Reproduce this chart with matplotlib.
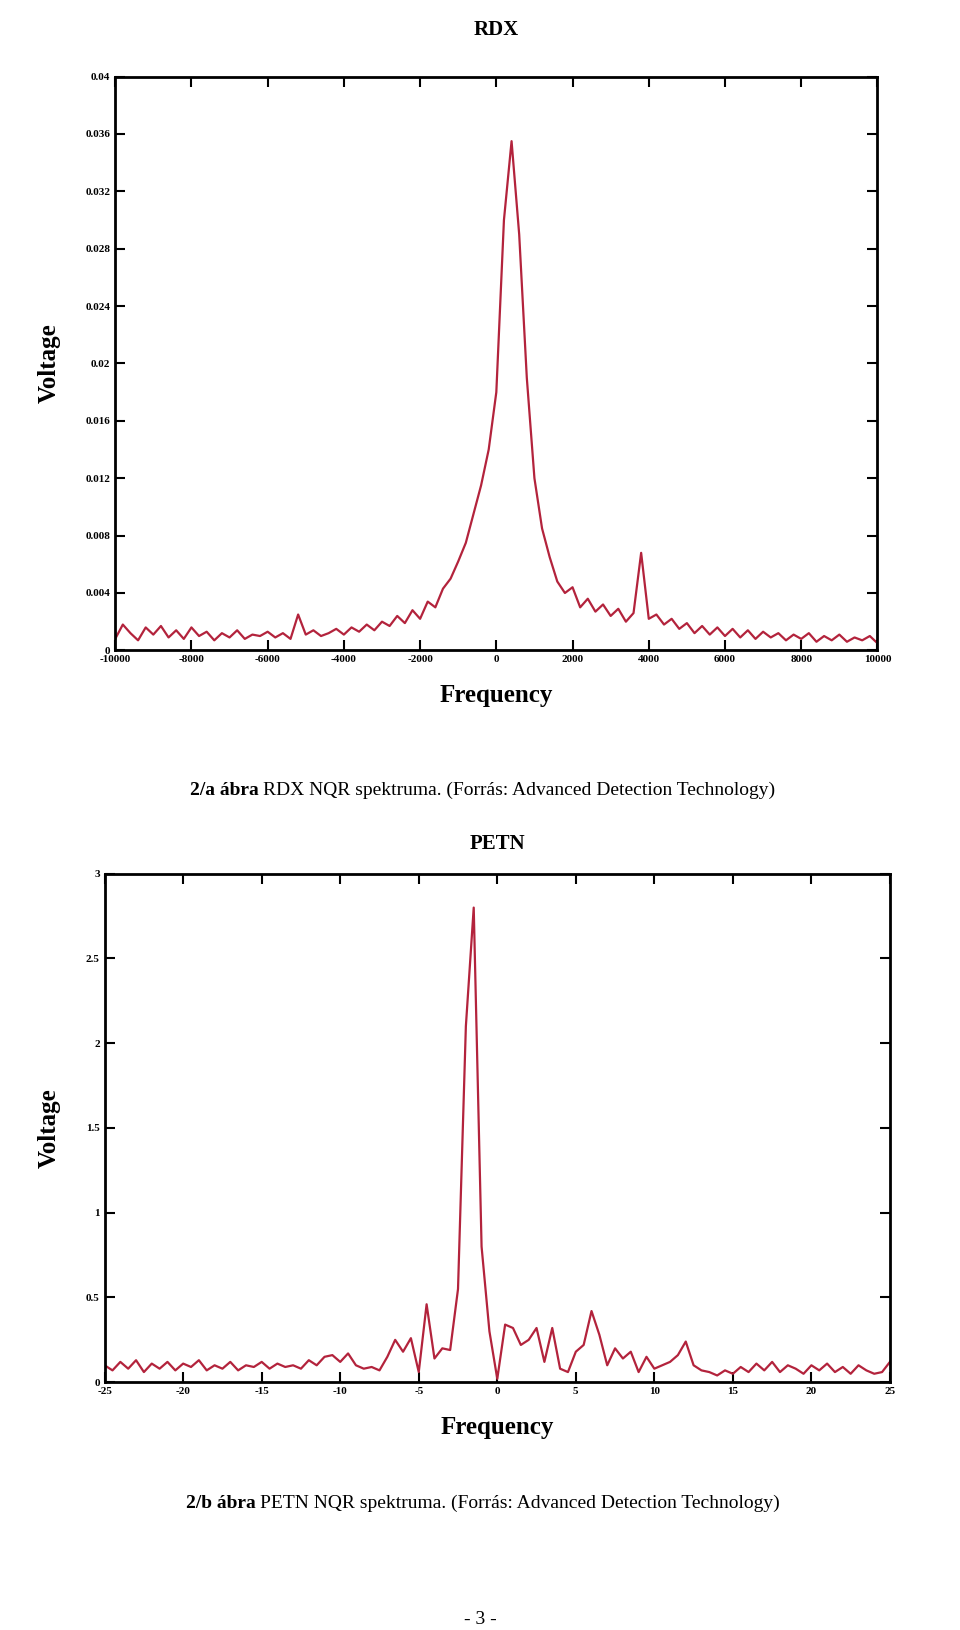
import numpy as np
import matplotlib
matplotlib.use("Agg")
import matplotlib.pyplot as plt

rdx_freq = np.arange(-10000, 10001, 200)
rdx_voltage = [
0.0008,0.0018,0.0012,0.0007,0.0016,0.0011,0.0017,0.0009,0.0014,0.0008,
0.0016,0.0010,0.0013,0.0007,0.0012,0.0009,0.0014,0.0008,0.0011,0.0010,
0.0013,0.0009,0.0012,0.0008,0.0025,0.0011,0.0014,0.0010,0.0012,0.0015,
0.0011,0.0016,0.0013,0.0018,0.0014,0.0020,0.0017,0.0024,0.0019,0.0028,
0.0022,0.0034,0.0030,0.0043,0.0050,0.0062,0.0075,0.0095,0.0115,0.0140,
0.0180,0.0300,0.0355,0.0290,0.0190,0.0120,0.0085,0.0065,0.0048,0.0040,
0.0044,0.0030,0.0036,0.0027,0.0032,0.0024,0.0029,0.0020,0.0026,0.0068,
0.0022,0.0025,0.0018,0.0022,0.0015,0.0019,0.0012,0.0017,0.0011,0.0016,
0.0010,0.0015,0.0009,0.0014,0.0008,0.0013,0.0009,0.0012,0.0007,0.0011,
0.0008,0.0012,0.0006,0.0010,0.0007,0.0011,0.0006,0.0009,0.0007,0.0010,
0.0005]

petn_freq = np.arange(-25, 25.01, 0.5)
petn_voltage = [
# -25 .. -7.5
0.10,0.07,0.12,0.08,0.13,0.06,0.11,0.08,0.12,0.07,
0.11,0.09,0.13,0.07,0.10,0.08,0.12,0.07,0.10,0.09,
0.12,0.08,0.11,0.09,0.10,0.08,0.13,0.10,0.15,0.16,
0.12,0.17,0.10,0.08,0.09,0.07,
# -7 .. 13
0.15,0.25,0.18,0.26,0.06,0.46,0.14,0.20,0.19,0.55,
2.10,2.80,0.80,0.30,0.02,0.34,0.32,0.22,0.25,0.32,
0.12,0.32,0.08,0.06,0.18,0.22,0.42,0.28,0.10,0.20,
0.14,0.18,0.06,0.15,0.08,0.10,0.12,0.16,0.24,0.10,
0.07,
# 13.5 .. 25
0.06,0.04,0.07,0.05,0.09,0.06,0.11,0.07,0.12,0.06,
0.10,0.08,0.05,0.10,0.07,0.11,0.06,0.09,0.05,0.10,
0.07,0.05,0.06,0.12]

rdx_yticks = [0, 0.004, 0.008, 0.012, 0.016, 0.02, 0.024, 0.028, 0.032, 0.036, 0.04]
rdx_xticks = [-10000, -8000, -6000, -4000, -2000, 0, 2000, 4000, 6000, 8000, 10000]
petn_yticks = [0, 0.5, 1, 1.5, 2, 2.5, 3]
petn_xticks = [-25, -20, -15, -10, -5, 0, 5, 10, 15, 20, 25]

serif = "Liberation Serif"
red = "#b3233c"
fig = plt.figure(figsize=(9.6, 16.3), dpi=100)

def style(ax, xt, yt, xl, yl):
    ax.set_xlim(xl); ax.set_ylim(yl)
    ax.set_xticks(xt); ax.set_yticks(yt)
    ax.set_xticklabels([str(v) for v in xt], fontfamily=serif, fontweight="bold", fontsize=8)
    ax.set_yticklabels([("%g" % v) for v in yt], fontfamily=serif, fontweight="bold", fontsize=8)
    ax.tick_params(direction="in", top=True, right=True, length=7, width=1.5)
    for s in ax.spines.values():
        s.set_linewidth(2)
    ax.set_xlabel("Frequency", fontfamily=serif, fontweight="bold", fontsize=18, labelpad=14)
    ax.set_ylabel("Voltage", fontfamily=serif, fontweight="bold", fontsize=18, labelpad=18)

ax1 = fig.add_axes([0.120, 0.601, 0.794, 0.352])
ax1.plot(rdx_freq, rdx_voltage, color=red, lw=1.6)
style(ax1, rdx_xticks, rdx_yticks, (-10000, 10000), (0, 0.04))
ax1.set_title("RDX", fontfamily=serif, fontweight="bold", fontsize=15, pad=30)

ax2 = fig.add_axes([0.109, 0.152, 0.818, 0.312])
ax2.plot(petn_freq, petn_voltage, color=red, lw=1.6)
style(ax2, petn_xticks, petn_yticks, (-25, 25), (0, 3))
ax2.set_title("PETN", fontfamily=serif, fontweight="bold", fontsize=15, pad=18)

def caption(y, bold, rest):
    t = fig.text(0.5, y, bold + " " + rest, ha="center", fontfamily=serif, fontsize=14, alpha=0)
    fig.canvas.draw()
    bb = t.get_window_extent()
    t.remove()
    x0 = (960 - bb.width) / 2 / 960
    tb = fig.text(x0, y, bold, fontfamily=serif, fontsize=14, fontweight="bold")
    fig.canvas.draw()
    w = tb.get_window_extent().width
    fig.text(x0 + (w + 4) / 960, y, rest, fontfamily=serif, fontsize=14)

caption(1 - 795 / 1630, "2/a ábra", "RDX NQR spektruma. (Forrás: Advanced Detection Technology)")
caption(1 - 1508 / 1630, "2/b ábra", "PETN NQR spektruma. (Forrás: Advanced Detection Technology)")
fig.text(0.5, 1 - 1624 / 1630, "- 3 -", ha="center", fontfamily=serif, fontsize=14)

fig.savefig("out.png", dpi=100, facecolor="white")
